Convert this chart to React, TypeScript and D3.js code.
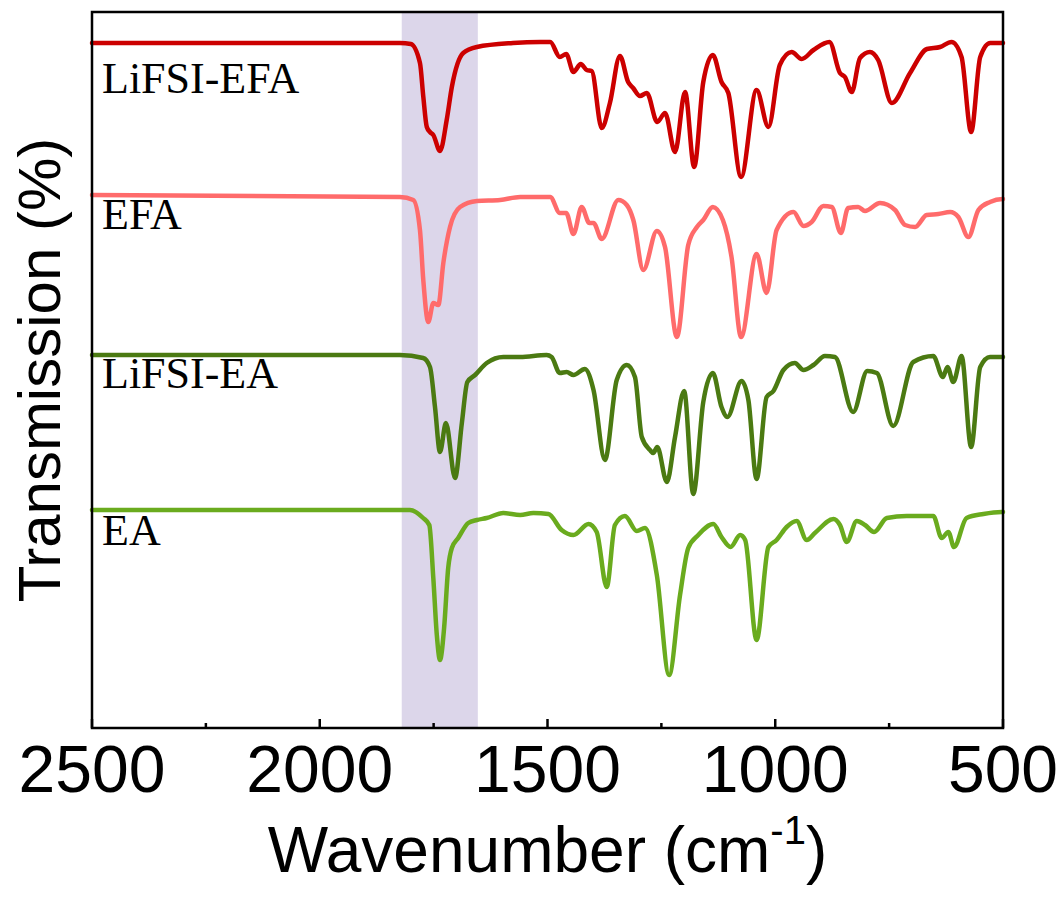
import React, { useEffect, useRef } from "react";
import * as d3 from "d3";

// [wavenumber (cm-1), transmission (a.u., offset)]
const lifsiEFA: [number, number][] = [
  [2500, 685], [1824, 685], [1800, 684], [1780, 665], [1772.6, 631], [1765, 601], [1758, 596],
  [1750.7, 593], [1736, 577], [1721.3, 608], [1710, 641], [1685, 675], [1655, 681], [1576, 685],
  [1516, 686], [1494, 686], [1473, 671], [1459, 674], [1443, 656], [1427, 664], [1414, 658],
  [1403, 657], [1381, 600], [1363, 625], [1341, 672], [1323, 646], [1312, 640], [1297, 632],
  [1282, 635], [1259, 606], [1242, 615], [1220, 576], [1198, 636], [1178, 561], [1158, 646],
  [1137, 673], [1118, 646], [1103, 635], [1075, 551], [1041, 638], [1015, 601], [990, 663],
  [964, 676], [942, 669], [916, 678], [881, 686], [858, 655], [847, 651], [832, 636], [814, 670],
  [792, 676], [774, 668], [744, 625], [704, 655], [667, 679], [638, 681], [613, 686], [591, 671],
  [570, 596], [550, 671], [528, 685], [503, 685], [500, 685],
];

const efa: [number, number][] = [
  [2500, 533], [1824, 531], [1794.6, 528], [1780, 498], [1772.7, 448], [1761.7, 406], [1750.7, 425],
  [1739.7, 423], [1728.7, 465], [1714, 501], [1692, 521], [1655, 527], [1604, 528], [1560, 531],
  [1494, 531], [1473, 515], [1459, 515], [1443, 494], [1425, 521], [1408, 505], [1399, 505],
  [1381, 489], [1344.5, 528], [1326, 523], [1311.6, 508], [1289.6, 458], [1260, 497], [1242, 481],
  [1216, 391], [1191, 483], [1172, 501], [1158, 508], [1137, 521], [1115, 508], [1096, 471],
  [1075, 391], [1041, 474], [1019, 435], [997, 498], [960, 516], [938, 502], [920, 506],
  [894.5, 522], [876, 521], [856, 495], [840, 520], [818, 521], [803, 517], [770, 525], [737, 518],
  [715, 503], [693, 501], [667.5, 513], [642, 514], [616, 516], [598, 511], [576, 491], [554, 518],
  [528.5, 526], [501, 529], [500, 529],
];

const lifsiEA: [number, number][] = [
  [2500, 373], [1824, 373], [1773, 370], [1758, 361], [1747, 321], [1736, 276], [1723, 305],
  [1703, 250], [1688, 305], [1676, 346], [1659, 353], [1633.5, 365], [1597, 371], [1560, 371],
  [1502, 373], [1491, 371], [1473, 355], [1458, 356], [1443, 353], [1418, 359], [1399, 338],
  [1374, 268], [1348, 348], [1326, 363], [1308, 351], [1293, 291], [1275, 278], [1268, 275],
  [1259, 281], [1238, 246], [1220, 291], [1200, 337], [1180, 234], [1158, 326], [1137, 355],
  [1118, 321], [1105, 311], [1074, 347], [1059, 328], [1041, 249], [1019, 331], [1004, 337],
  [982, 358], [957, 365], [938, 358], [916, 363], [891, 372], [869, 371], [829, 316], [798, 357],
  [777, 355], [741, 302], [697, 366], [653, 372], [632, 351], [622, 361], [609, 346], [591, 372],
  [570, 281], [550, 361], [528.5, 371], [501, 371], [500, 371],
];

const ea: [number, number][] = [
  [2500, 218], [1868, 218], [1802, 218], [1773, 210], [1759.5, 203], [1750.7, 150], [1743, 93],
  [1736, 68], [1727, 100], [1718, 160], [1710, 180], [1696, 190], [1674, 205], [1655, 208],
  [1633.5, 210], [1597, 215], [1560, 213], [1531, 215], [1498, 214], [1469, 198], [1443, 193],
  [1410, 204], [1392, 196], [1370, 141], [1352, 203], [1330, 212], [1304, 197], [1286, 200],
  [1260, 153], [1233, 53], [1209, 133], [1191, 180], [1169, 193], [1136, 204], [1118, 191],
  [1098, 181], [1077, 193], [1066, 188], [1041, 88], [1015, 181], [997, 188], [975, 201],
  [953, 207], [931, 188], [913, 195], [872, 209], [858, 203], [843, 186], [821, 207], [803, 203],
  [783, 196], [755, 210], [711.5, 212], [653, 212], [634.6, 190], [620, 196], [607.5, 181],
  [580, 210], [543, 214], [503, 216], [500, 216],
];

const seriesNames = ["LiFSI-EFA", "EFA", "LiFSI-EA", "EA"];
const seriesData = [lifsiEFA, efa, lifsiEA, ea];
const seriesColors = ["#cc0000", "#ff6b6b", "#4b7a12", "#6aab1e"];
const labelValues = [635, 499, 340, 183];

const xTicks = [2500, 2000, 1500, 1000, 500];
const xMinorTicks = [2250, 1750, 1250, 750];
const bandRange: [number, number] = [1820, 1653];

const W = 1057;
const H = 900;
const M = { left: 92, right: 1003, top: 12, bottom: 728 };

export default function App() {
  const ref = useRef<SVGSVGElement>(null);

  useEffect(() => {
    const svg = d3.select(ref.current);
    svg.selectAll("*").remove();

    const x = d3.scaleLinear().domain([2500, 500]).range([M.left, M.right]);
    const y = d3.scaleLinear().domain([0, 716]).range([M.bottom, M.top]);

    svg.append("rect").attr("width", W).attr("height", H).attr("fill", "#ffffff");

    // shaded band
    svg
      .append("rect")
      .attr("x", x(bandRange[0]))
      .attr("y", M.top)
      .attr("width", x(bandRange[1]) - x(bandRange[0]))
      .attr("height", M.bottom - M.top)
      .attr("fill", "#dcd6ea");

    const line = d3
      .line<[number, number]>()
      .x((d) => x(d[0]))
      .y((d) => y(d[1]))
      .curve(d3.curveMonotoneX);

    seriesData.forEach((data, i) => {
      const sorted = [...data].sort((a, b) => b[0] - a[0]);
      svg
        .append("path")
        .datum(sorted)
        .attr("d", line)
        .attr("fill", "none")
        .attr("stroke", seriesColors[i])
        .attr("stroke-width", 4.5)
        .attr("stroke-linejoin", "round")
        .attr("stroke-linecap", "round");
    });

    // labels
    seriesNames.forEach((name, i) => {
      svg
        .append("text")
        .attr("x", 102)
        .attr("y", y(labelValues[i]))
        .attr("font-family", "'Liberation Serif', 'Times New Roman', serif")
        .attr("font-size", 44)
        .attr("fill", "#000")
        .text(name);
    });

    // frame
    svg
      .append("rect")
      .attr("x", M.left)
      .attr("y", M.top)
      .attr("width", M.right - M.left)
      .attr("height", M.bottom - M.top)
      .attr("fill", "none")
      .attr("stroke", "#000")
      .attr("stroke-width", 2.5);

    // ticks (inward)
    const axis = svg.append("g");
    xTicks.forEach((t) => {
      axis
        .append("line")
        .attr("x1", x(t))
        .attr("x2", x(t))
        .attr("y1", M.bottom)
        .attr("y2", M.bottom - 9)
        .attr("stroke", "#000")
        .attr("stroke-width", 2.5);
      axis
        .append("text")
        .attr("x", x(t))
        .attr("y", 792)
        .attr("text-anchor", "middle")
        .attr("font-family", "'Liberation Sans', Arial, sans-serif")
        .attr("font-size", 66)
        .attr("fill", "#000")
        .text(String(t));
    });
    xMinorTicks.forEach((t) => {
      axis
        .append("line")
        .attr("x1", x(t))
        .attr("x2", x(t))
        .attr("y1", M.bottom)
        .attr("y2", M.bottom - 5)
        .attr("stroke", "#000")
        .attr("stroke-width", 2.5);
    });

    // x title
    const xt = svg
      .append("text")
      .attr("x", (M.left + M.right) / 2)
      .attr("y", 872)
      .attr("text-anchor", "middle")
      .attr("font-family", "'Liberation Sans', Arial, sans-serif")
      .attr("font-size", 64)
      .attr("fill", "#000");
    xt.append("tspan").text("Wavenumber (cm");
    xt.append("tspan").attr("font-size", 40).attr("dy", -28).text("-1");
    xt.append("tspan").attr("dy", 28).text(")");

    // y title
    svg
      .append("text")
      .attr("transform", `translate(60, ${(M.top + M.bottom) / 2}) rotate(-90)`)
      .attr("text-anchor", "middle")
      .attr("font-family", "'Liberation Sans', Arial, sans-serif")
      .attr("font-size", 60)
      .attr("fill", "#000")
      .text("Transmission (%)");
  }, []);

  return (
    <svg
      ref={ref}
      width={W}
      height={H}
      style={{ position: "absolute", left: 0, top: 0, display: "block" }}
    />
  );
}
